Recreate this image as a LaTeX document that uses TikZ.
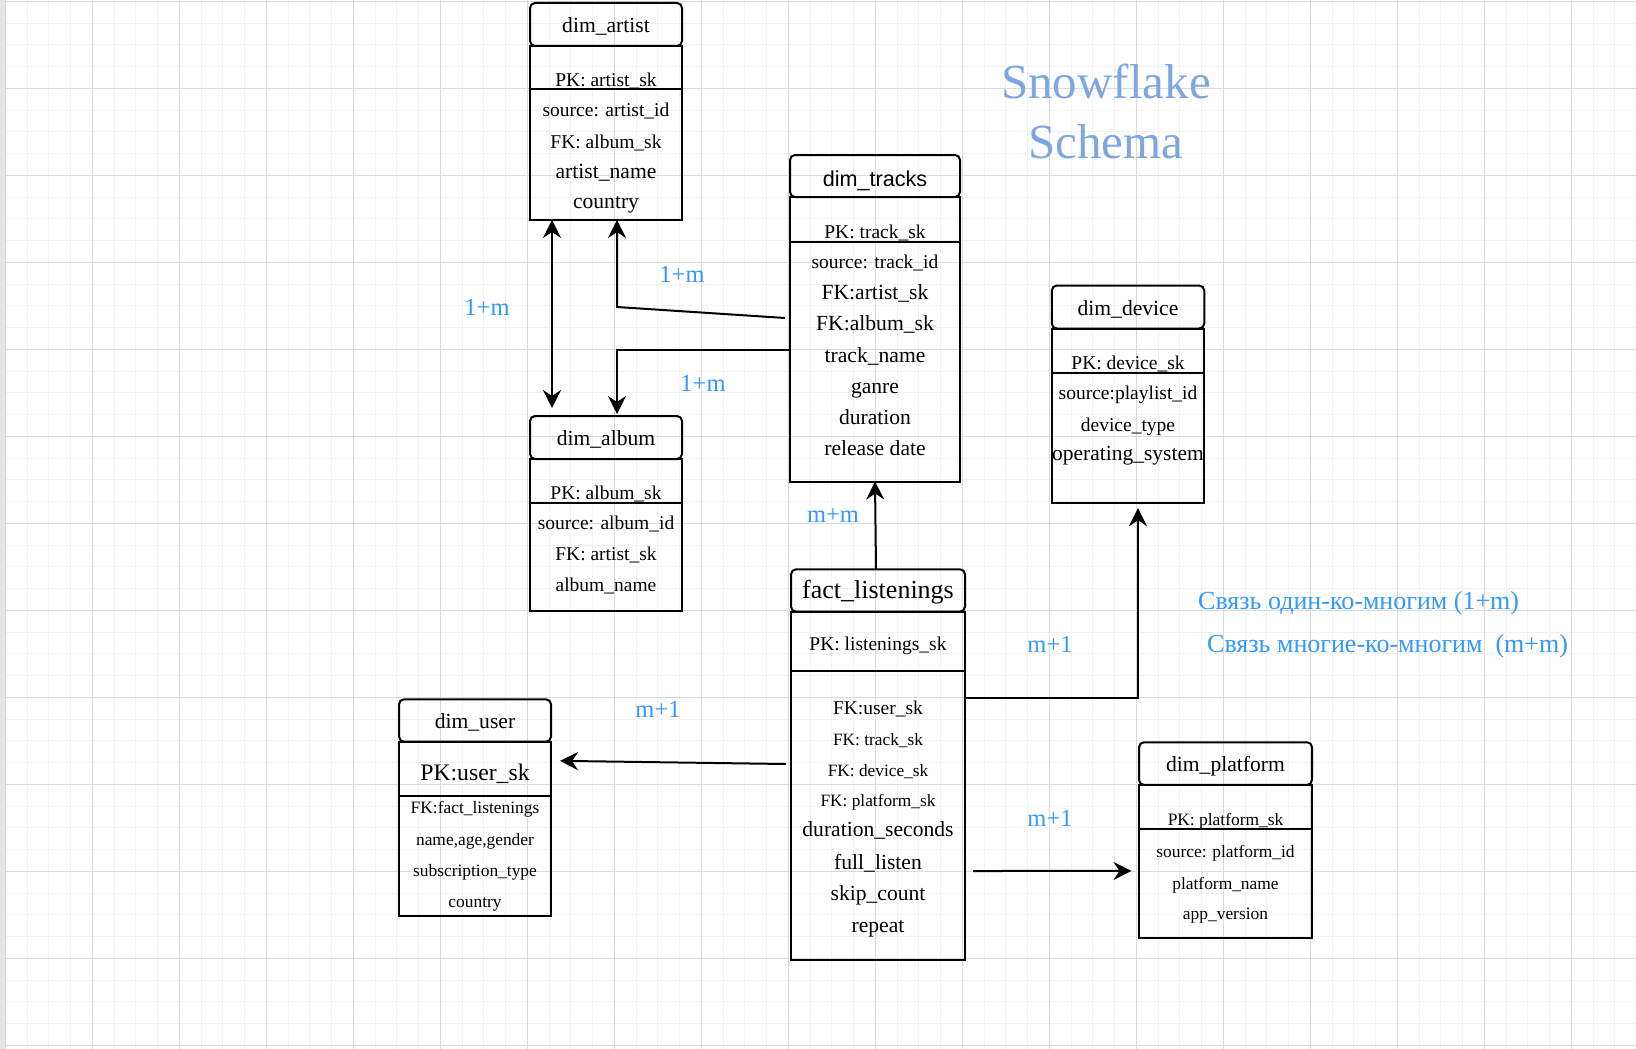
\documentclass[tikz,border=0pt]{standalone}
\usepackage{fontspec}
\setmainfont{Liberation Serif}
\newfontfamily\headsans{Liberation Sans}
\usepackage{xcolor}
\usetikzlibrary{arrows.meta, positioning}

\definecolor{labelblue}{HTML}{3399FF}
\definecolor{titleblue}{HTML}{7EA6E0}
\definecolor{gridmajor}{HTML}{DADADA}
\definecolor{gridminor}{HTML}{F2F2F2}
\definecolor{pageshade}{HTML}{E4E4E4}

\newcommand{\fsz}[1]{\fontsize{#1}{#1}\selectfont}

\tikzstyle{arrow} = [line width=2pt,->,>={Stealth[length=18pt,width=18pt,inset=6pt]}]
\tikzstyle{tablehead} = [draw, line width=2pt, rounded corners=5pt, inner sep=0pt, outer sep=0pt, text height=16.2pt, text depth=0pt, font=\fsz{21.6}]
\tikzstyle{tablepart} = [draw, line width=2pt, inner sep=0pt, outer sep=0pt]
\tikzstyle{field} = [inner sep=0pt, text height=14pt, text depth=0pt, font=\fsz{19.5}]
\tikzstyle{card} = [inner sep=0pt, text height=16.2pt, text depth=0pt, text=labelblue, font=\fsz{24.5}]

\begin{document}
\begin{tikzpicture}[x=1pt, y=-1pt]

	% Page and grid
	\useasboundingbox (0,0) rectangle (1636,1049);
	\fill[white] (0,0) rectangle (1636,1049);
	\foreach \i in {0,...,74} \draw[gridminor, line width=1pt] (5.3+21.75*\i,0) -- (5.3+21.75*\i,1049);
	\foreach \i in {0,...,48} \draw[gridminor, line width=1pt] (0,1.3+21.75*\i) -- (1636,1.3+21.75*\i);
	\foreach \i in {0,...,18} \draw[gridmajor, line width=1pt] (5.3+87*\i,0) -- (5.3+87*\i,1049);
	\foreach \i in {0,...,12} \draw[gridmajor, line width=1pt] (0,1.3+87*\i) -- (1636,1.3+87*\i);
	\fill[pageshade] (0,0) rectangle (5,1049);

	% Title
	\node[inner sep=0pt, anchor=base, text=titleblue, font=\fsz{49}] (title1) at (1106,98) {Snowflake};
	\node[inner sep=0pt, anchor=base, text=titleblue, font=\fsz{49}] (title2) at (1106,158.7) {Schema};

	% dim_artist
	\node[tablehead, minimum width=152pt, minimum height=43pt] (arthead) at (606,24.5) {dim\_artist};
	\node[tablepart, minimum width=152pt, minimum height=43pt, below=0pt of arthead] (artpk) {};
	\node[tablepart, minimum width=152pt, minimum height=131pt, below=0pt of artpk] (artbody) {};
	\node[field] (art1) at (606,79) {PK: artist\_sk};
	\node[field] (art2) at (606,109) {source: artist\_id};
	\node[field] (art3) at (606,141) {FK: album\_sk};
	\node[field, font=\fsz{21.6}] (art4) at (606,171) {artist\_name};
	\node[field, font=\fsz{21.6}] (art5) at (606,201) {country};

	% dim_tracks
	\node[tablehead, minimum width=170pt, minimum height=42pt, text height=20.2pt, font=\headsans\fsz{21.6}] (trkhead) at (875,176) {dim\_tracks};
	\node[tablepart, minimum width=170pt, minimum height=45pt, below=0pt of trkhead] (trkpk) {};
	\node[tablepart, minimum width=170pt, minimum height=239.5pt, below=0pt of trkpk] (trkbody) {};
	\node[field] (trk1) at (875,231) {PK: track\_sk};
	\node[field] (trk2) at (875,261) {source: track\_id};
	\node[field, font=\fsz{21.6}] (trk3) at (875,292) {FK:artist\_sk};
	\node[field, font=\fsz{21.6}] (trk4) at (875,323) {FK:album\_sk};
	\node[field, font=\fsz{21.6}] (trk5) at (875,355) {track\_name};
	\node[field, font=\fsz{21.6}] (trk6) at (875,386) {ganre};
	\node[field, font=\fsz{21.6}] (trk7) at (875,417) {duration};
	\node[field, font=\fsz{21.6}] (trk8) at (875,448) {release date};

	% dim_device
	\node[tablehead, minimum width=152.5pt, minimum height=43pt] (devhead) at (1128,307) {dim\_device};
	\node[tablepart, minimum width=152.5pt, minimum height=44pt, below=0pt of devhead] (devpk) {};
	\node[tablepart, minimum width=152.5pt, minimum height=130.7pt, below=0pt of devpk] (devbody) {};
	\node[field] (dev1) at (1128,362) {PK: device\_sk};
	\node[field] (dev2) at (1128,392) {source:playlist\_id};
	\node[field] (dev3) at (1128,424) {device\_type};
	\node[field, font=\fsz{21.5}] (dev4) at (1128,453) {operating\_system};

	% dim_album
	\node[tablehead, minimum width=152pt, minimum height=43pt] (albhead) at (606,437.5) {dim\_album};
	\node[tablepart, minimum width=152pt, minimum height=44pt, below=0pt of albhead] (albpk) {};
	\node[tablepart, minimum width=152pt, minimum height=107.5pt, below=0pt of albpk] (albbody) {};
	\node[field] (alb1) at (606,492) {PK: album\_sk};
	\node[field] (alb2) at (606,522) {source: album\_id};
	\node[field] (alb3) at (606,553) {FK: artist\_sk};
	\node[field] (alb4) at (606,584) {album\_name};

	% fact_listenings
	\node[tablehead, minimum width=174pt, minimum height=42.4pt, font=\fsz{26}] (facthead) at (878,590.5) {fact\_listenings};
	\node[tablepart, minimum width=174pt, minimum height=59.3pt, below=0pt of facthead] (factpk) {};
	\node[tablepart, minimum width=174pt, minimum height=289pt, below=0pt of factpk] (factbody) {};
	\node[field] (fact1) at (878,643) {PK: listenings\_sk};
	\node[field] (fact2) at (878,707) {FK:user\_sk};
	\node[field, font=\fsz{17.3}] (fact3) at (878,738) {FK: track\_sk};
	\node[field, font=\fsz{17.3}] (fact4) at (878,769) {FK: device\_sk};
	\node[field, font=\fsz{17.3}] (fact5) at (878,799) {FK: platform\_sk};
	\node[field, font=\fsz{21.6}] (fact6) at (878,829) {duration\_seconds};
	\node[field, font=\fsz{21.6}] (fact7) at (878,862) {full\_listen};
	\node[field, font=\fsz{21.6}] (fact8) at (878,893) {skip\_count};
	\node[field, font=\fsz{21.6}] (fact9) at (878,925) {repeat};

	% dim_user
	\node[tablehead, minimum width=152pt, minimum height=42.4pt] (userhead) at (475,720.5) {dim\_user};
	\node[tablepart, minimum width=152pt, minimum height=54.3pt, below=0pt of userhead] (userpk) {};
	\node[tablepart, minimum width=152pt, minimum height=120pt, below=0pt of userpk] (userbody) {};
	\node[field, font=\fsz{23.7}] (user1) at (475,773) {PK:user\_sk};
	\node[field, font=\fsz{17.4}] (user2) at (475,806) {FK:fact\_listenings};
	\node[field, font=\fsz{17.4}] (user3) at (475,838) {name,age,gender};
	\node[field, font=\fsz{17.4}] (user4) at (475,869) {subscription\_type};
	\node[field, font=\fsz{17.4}] (user5) at (475,900) {country};

	% dim_platform
	\node[tablehead, minimum width=173pt, minimum height=42.7pt] (plathead) at (1225.5,763.6) {dim\_platform};
	\node[tablepart, minimum width=173pt, minimum height=44.3pt, below=0pt of plathead] (platpk) {};
	\node[tablepart, minimum width=173pt, minimum height=109pt, below=0pt of platpk] (platbody) {};
	\node[field, font=\fsz{17.4}] (plat1) at (1225.5,818) {PK: platform\_sk};
	\node[field, font=\fsz{17.4}] (plat2) at (1225.5,850) {source: platform\_id};
	\node[field, font=\fsz{17.4}] (plat3) at (1225.5,882) {platform\_name};
	\node[field, font=\fsz{17.4}] (plat4) at (1225.5,912) {app\_version};

	% Relations
	\coordinate (artbend) at (617,307);
	\draw[arrow, <->] ([xshift=22pt]artbody.south west) -- ([xshift=22pt, yshift=8pt]albhead.north west);
	\draw[arrow] ([xshift=-5pt, yshift=43.75pt]trkbody.west) -- (artbend) -- ([xshift=87pt]artbody.south west);
	\draw[arrow] ([yshift=12.25pt]trkbody.west) -| ([xshift=87pt, yshift=2pt]albhead.north west);
	\draw[arrow] ([xshift=-2pt]facthead.north) -- (trkbody.south);
	\draw[arrow] ([xshift=-5pt, yshift=51.5pt]factbody.west) -- ([xshift=9pt, yshift=8pt]userpk.east);
	\draw[arrow] ([yshift=117.5pt]factbody.east) -| ([xshift=10pt, yshift=-5pt]devbody.south);
	\draw[arrow] ([xshift=8pt, yshift=-55.5pt]factbody.east) -- ([xshift=-7.5pt, yshift=12.8pt]platbody.west);

	% Cardinality labels
	\node[card] (card1) at (487,307) {1+m};
	\node[card] (card2) at (682,274) {1+m};
	\node[card] (card3) at (703,383) {1+m};
	\node[card] (card4) at (833,514) {m+m};
	\node[card] (card5) at (658,709) {m+1};
	\node[card] (card6) at (1050,644) {m+1};
	\node[card] (card7) at (1050,818) {m+1};

	% Legend
	\node[card, anchor=west, font=\fsz{26}] (legend1) at (1198,601) {Связь один-ко-многим (1+m)};
	\node[card, anchor=west, font=\fsz{26}] (legend2) at (1207,644) {Связь многие-ко-многим \ (m+m)};

\end{tikzpicture}
\end{document}
